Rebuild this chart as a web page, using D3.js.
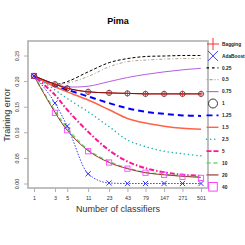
<!DOCTYPE html>
<html><head><meta charset="utf-8">
<script src="https://cdn.jsdelivr.net/npm/d3@7"></script>
<style>
html,body{margin:0;padding:0;background:#fff;}
svg{display:block;font-family:"Liberation Sans",Arial,sans-serif;}
</style></head>
<body>
<svg id="c" width="245" height="245"></svg>
<script>
const nClassifiers = [1,3,5,11,23,43,79,147,271,501];
const yTicks = [0,0.05,0.10,0.15,0.20,0.25];
const bagging  = [0.21,0.194,0.186,0.179,0.177,0.176,0.175,0.175,0.175,0.175];
const adaboost = [0.21,0.157,0.112,0.019,0.001,0,0,0,0,0];
const lam025 = [0.21,0.194,0.199,0.218,0.236,0.244,0.248,0.249,0.25,0.25];
const lam05  = [0.21,0.194,0.196,0.209,0.228,0.238,0.241,0.243,0.244,0.244];
const lam075 = [0.21,0.194,0.189,0.19,0.199,0.207,0.213,0.218,0.222,0.225];
const lam1   = [0.21,0.194,0.186,0.179,0.177,0.176,0.175,0.175,0.175,0.175];
const lam125 = [0.21,0.19,0.183,0.17,0.157,0.147,0.14,0.136,0.133,0.132];
const lam15  = [0.21,0.189,0.179,0.163,0.144,0.127,0.118,0.112,0.108,0.106];
const lam25  = [0.21,0.183,0.166,0.14,0.111,0.085,0.072,0.063,0.058,0.054];
const lam5   = [0.21,0.173,0.144,0.101,0.065,0.043,0.03,0.022,0.017,0.015];
const lam10  = [0.21,0.142,0.108,0.066,0.043,0.030,0.022,0.018,0.015,0.013];
const lam20  = [0.21,0.139,0.104,0.064,0.041,0.029,0.021,0.017,0.014,0.012];
const lam40  = [0.21,0.138,0.104,0.063,0.041,0.029,0.021,0.017,0.013,0.011];
const legendLabels = ["Bagging","AdaBoost","0.25","0.5","0.75","1","1.25","1.5","2.5","5","10","20","40"];

const svg = d3.select("#c");
const x = d3.scaleLog().domain([2,502]).range([34,201]);
const y = d3.scaleLinear().domain([0,0.25]).range([183.5,55.5]);
const X = n => x(n+1);

svg.append("text").attr("x",118).attr("y",24).attr("text-anchor","middle")
  .attr("font-size",9).attr("font-weight","bold").text("Pima");

svg.append("rect").attr("x",28).attr("y",41).attr("width",180).attr("height",147)
  .attr("fill","none").attr("stroke","#b0b0b0").attr("stroke-width",1.6);

const gy = svg.append("g").attr("transform","translate(28,0)")
  .call(d3.axisLeft(y).tickValues(yTicks).tickFormat(d3.format(".2f")).tickSize(4));
gy.select(".domain").remove();
gy.selectAll("line").attr("stroke","#b0b0b0");
gy.selectAll("text").attr("transform","rotate(-90)").attr("x",0).attr("y",-9)
  .attr("dy",0).attr("text-anchor","middle").attr("font-size",5.3).attr("fill","#333");

const gx = svg.append("g").attr("transform","translate(0,188)")
  .call(d3.axisBottom(x).tickValues(nClassifiers.map(n=>n+1)).tickFormat(d=>d-1).tickSize(4).tickPadding(4));
gx.select(".domain").remove();
gx.selectAll("line").attr("stroke","#b0b0b0");
gx.selectAll("text").attr("font-size",5.3).attr("fill","#333");

svg.append("text").attr("x",118).attr("y",212).attr("text-anchor","middle")
  .attr("font-size",9).attr("fill","#333").text("Number of classifiers");
svg.append("text").attr("transform","translate(10,115) rotate(-90)").attr("text-anchor","middle")
  .attr("font-size",9).attr("fill","#333").text("Training error");

const smooth = d3.line().x((d,i)=>X(nClassifiers[i])).y(d=>y(d)).curve(d3.curveCatmullRom.alpha(0.5));
const mono = d3.line().x((d,i)=>X(nClassifiers[i])).y(d=>y(d)).curve(d3.curveMonotoneX);

const series = [
  {v:lam025, c:"#000000", w:1, dash:"3,2"},
  {v:lam05, c:"#b3a08c", w:1, dash:"1,2,3,2"},
  {v:lam075, c:"#b45ee0", w:1, dash:null},
  {v:lam125, c:"#0000ff", w:2, dash:"6,4"},
  {v:lam15, c:"#ff6347", w:1.5, dash:null},
  {v:lam25, c:"#20b2aa", w:1.5, dash:"0.1,4", cap:"round"},
  {v:lam5, c:"#ff1493", w:2, dash:"1.5,2,5,2"},
  {v:lam10, c:"#66dd66", w:1.5, dash:"4,3"},
  {v:lam20, c:"#9a3434", w:1, dash:null},
  {v:bagging, c:"#ff0000", w:1, dash:null},
  {v:lam1, c:"#5a1010", w:0.8, dash:null},
  {v:adaboost, c:"#3a3aff", w:1, dash:"1.5,1.5", mono:true}
];
const gl = svg.append("g");
series.forEach(s=>{
  gl.append("path").attr("d",(s.mono?mono:smooth)(s.v)).attr("fill","none").attr("stroke",s.c)
    .attr("stroke-width",s.w).attr("stroke-dasharray",s.dash)
    .attr("stroke-linecap",s.cap||"butt");
});

function plus(g,cx,cy,r,c,w){g.append("path").attr("d",`M${cx-r},${cy}H${cx+r}M${cx},${cy-r}V${cy+r}`).attr("stroke",c).attr("stroke-width",w).attr("fill","none");}
function cross(g,cx,cy,r,c,w){g.append("path").attr("d",`M${cx-r},${cy-r}L${cx+r},${cy+r}M${cx-r},${cy+r}L${cx+r},${cy-r}`).attr("stroke",c).attr("stroke-width",w).attr("fill","none");}
function circ(g,cx,cy,r,c,w){g.append("circle").attr("cx",cx).attr("cy",cy).attr("r",r).attr("stroke",c).attr("stroke-width",w).attr("fill","none");}
function sq(g,cx,cy,r,c,w){g.append("rect").attr("x",cx-r).attr("y",cy-r).attr("width",2*r).attr("height",2*r).attr("stroke",c).attr("stroke-width",w).attr("fill","none");}

const gm = svg.append("g");
nClassifiers.forEach((n,i)=>{
  sq(gm,X(n),y(lam40[i]),2.6,"#ff44ff",0.9);
  circ(gm,X(n),y(lam1[i]),2.6,"#333",0.8);
  plus(gm,X(n),y(bagging[i]),3.2,"#e02020",0.8);
  cross(gm,X(n),y(adaboost[i]),2.6,"#2020ff",0.9);
});

const lg = svg.append("g");
const ly0 = 44, ldy = 11.9, lx = 213;
const legendStyles = [
  {m:"plus", c:"#ff3030"},
  {m:"cross", c:"#3a3aff"},
  {c:"#000000", w:1.3, dash:"2.5,3"},
  {c:"#b3a08c", w:1.3, dash:"1,2,3,2"},
  {c:"#b45ee0", w:1.1},
  {m:"circ", c:"#222"},
  {c:"#0000ff", w:1.8, dash:"6,4"},
  {c:"#ff6347", w:1.4},
  {c:"#20b2aa", w:1.5, dash:"0.1,4", cap:"round"},
  {c:"#ff1493", w:1.8, dash:"5,2"},
  {c:"#66dd66", w:1.6, dash:"4,3"},
  {c:"#b06a6a", w:1.6},
  {m:"sq", c:"#ff44ff"}
];
legendLabels.forEach((lab,i)=>{
  const cy = ly0 + i*ldy, s = legendStyles[i];
  if(s.m==="plus") plus(lg,lx,cy,6,s.c,1);
  else if(s.m==="cross") cross(lg,lx,cy,5,s.c,1);
  else if(s.m==="circ") circ(lg,lx,cy,4.5,s.c,0.9);
  else if(s.m==="sq") sq(lg,lx,cy,4.3,s.c,1);
  else lg.append("line").attr("x1",lx-6.5).attr("x2",lx+5.5).attr("y1",cy).attr("y2",cy)
      .attr("stroke",s.c).attr("stroke-width",s.w).attr("stroke-dasharray",s.dash||null)
      .attr("stroke-linecap",s.cap||"butt");
  lg.append("text").attr("x",222).attr("y",cy+1.7).attr("font-size",4.8)
    .attr("font-weight","bold").attr("fill","#222").text(lab);
});
</script>
</body></html>
